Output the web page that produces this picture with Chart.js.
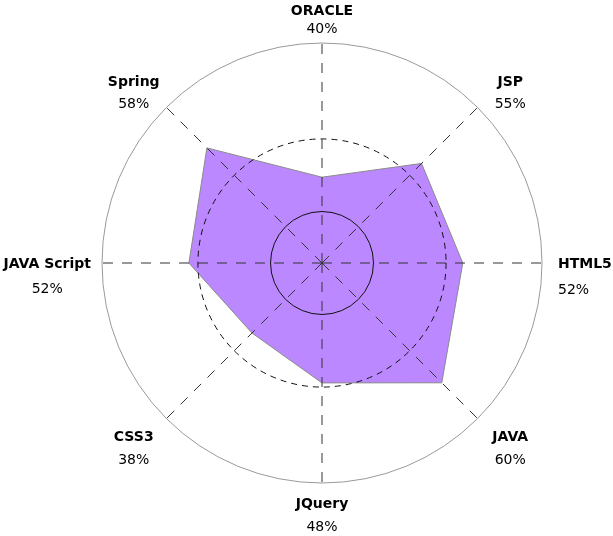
<!DOCTYPE html>
<html>
<head>
<meta charset="utf-8">
<script src="https://cdn.jsdelivr.net/npm/chart.js@4/dist/chart.umd.min.js"></script>
<style>
  html, body { margin: 0; padding: 0; background: #fff; }
  #wrap { width: 613px; height: 536px; }
</style>
</head>
<body>
<div id="wrap"><canvas id="skillsRadar"></canvas></div>
<script>
const skills = ['ORACLE', 'JSP', 'HTML5', 'JAVA', 'JQuery', 'CSS3', 'JAVA Script', 'Spring'];
const shownPercent = ['40%', '55%', '52%', '60%', '48%', '38%', '52%', '58%'];
const levels = [39, 64, 64, 77, 54.5, 45, 60.5, 74];
const gridTicks = [0, 23.4, 56.4, 100];

// draws the two-line labels (bold name + percent) around the web
const labelPlugin = {
  id: 'skillLabels',
  afterDraw(chart) {
    const scale = chart.scales.r;
    const ctx = chart.ctx;
    const R = scale.drawingArea;
    ctx.save();
    ctx.fillStyle = '#000';
    ctx.textBaseline = 'middle';
    skills.forEach((name, i) => {
      let nameX, nameY, pctX, pctY, align = 'center';
      ctx.font = 'bold 14px "DejaVu Sans", Verdana, sans-serif';
      const w = ctx.measureText(name).width;
      if (i === 0) {
        const p = scale.getPointPosition(i, R + 16);
        nameX = pctX = p.x; nameY = p.y - 16; pctY = p.y + 2;
      } else if (i === 4) {
        const p = scale.getPointPosition(i, R + 16);
        nameX = pctX = p.x; nameY = p.y + 5; pctY = p.y + 28;
      } else if (i === 2) {
        const p = scale.getPointPosition(i, R + 16);
        align = 'left';
        nameX = pctX = p.x; nameY = p.y + 1; pctY = p.y + 27;
      } else if (i === 6) {
        const p = scale.getPointPosition(i, R + 11);
        nameX = pctX = p.x - w / 2; nameY = p.y + 1; pctY = p.y + 26;
      } else {
        const p = scale.getPointPosition(i, R + 42);
        const dir = p.x > scale.xCenter ? 1 : -1;
        nameX = pctX = p.x + dir * 3;
        if (p.y < scale.yCenter) { nameY = p.y + 5; pctY = p.y + 27; }
        else { nameY = p.y - 11; pctY = p.y + 12; }
      }
      ctx.textAlign = align;
      ctx.fillText(name, nameX, nameY);
      ctx.font = '14px "DejaVu Sans", Verdana, sans-serif';
      ctx.fillText(shownPercent[i], pctX, pctY);
    });
    ctx.restore();
  }
};

const ctx = document.getElementById('skillsRadar');
let chart = new Chart(ctx, {
  type: 'radar',
  data: {
    labels: skills,
    datasets: [{
      label: 'Skills',
      data: levels,
      backgroundColor: 'rgb(187, 136, 255)',
      borderColor: '#8a8a8a',
      borderWidth: 1,
      pointRadius: 0,
      pointHoverRadius: 0,
      fill: true
    }]
  },
  options: {
    responsive: true,
    maintainAspectRatio: false,
    animation: false,
    events: [],
    layout: { padding: { left: 102, right: 71, top: 43, bottom: 53 } },
    plugins: {
      legend: { display: false },
      tooltip: { enabled: false }
    },
    scales: {
      r: {
        min: 0,
        max: 100,
        afterBuildTicks: axis => {
          axis.ticks = gridTicks.map(v => ({ value: v }));
        },
        ticks: { display: false },
        pointLabels: { display: false },
        grid: {
          z: 1,
          circular: true,
          lineWidth: 1,
          color: c => c.index === 3 ? '#999999' : '#111111'
        },
        border: {
          dash: c => c.index === 2 ? [6, 5] : []
        },
        angleLines: {
          color: '#333333',
          lineWidth: 1,
          borderDash: [10, 9]
        }
      }
    }
  },
  plugins: [labelPlugin]
});
</script>
</body>
</html>
